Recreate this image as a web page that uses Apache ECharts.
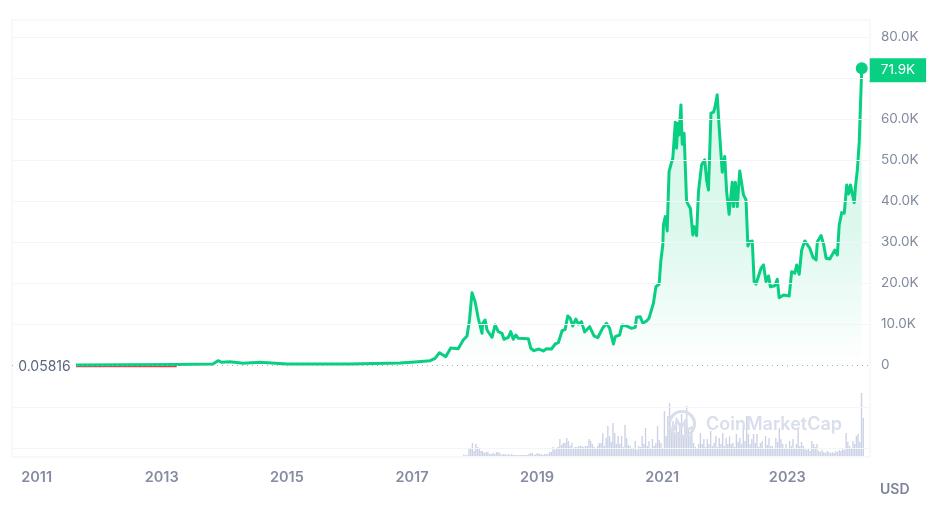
<!DOCTYPE html>
<html>
<head>
<meta charset="utf-8">
<style>
  html, body { margin: 0; padding: 0; background: #fff; }
  #chart { width: 937px; height: 508px; }
</style>
<script src="https://cdn.jsdelivr.net/npm/echarts@6/dist/echarts.min.js"></script>
</head>
<body>
<div id="chart"></div>
<script>
const yearTicks = [2011, 2013, 2015, 2017, 2019, 2021, 2023]
const priceTicks = [0, 10000, 20000, 30000, 40000, 50000, 60000, 80000]
const gridValues = [-20250, -10250, 10000, 20000, 30000, 40000, 50000, 60000, 70000, 80000]
const startPriceLabel = '0.05816'
const lastPriceLabel = '71.9K'

// decimal year, price in USD
const priceYears = [
  2011.63, 2013.24, 2013.82, 2013.90, 2013.96, 2014.09, 2014.30, 2014.57, 2015.00, 2015.21, 2016.01, 2016.81,
  2017.05, 2017.29, 2017.37, 2017.44, 2017.54, 2017.62, 2017.74, 2017.82, 2017.88, 2017.92, 2017.96, 2017.98,
  2018.01, 2018.04, 2018.06, 2018.09, 2018.12, 2018.13, 2018.17, 2018.20, 2018.22, 2018.28, 2018.33, 2018.38,
  2018.44, 2018.47, 2018.54, 2018.58, 2018.62, 2018.66, 2018.70, 2018.86, 2018.90, 2018.95, 2019.03, 2019.10,
  2019.15, 2019.23, 2019.29, 2019.34, 2019.40, 2019.45, 2019.49, 2019.53, 2019.57, 2019.62, 2019.66, 2019.71,
  2019.76, 2019.79, 2019.84, 2019.91, 2019.97, 2020.05, 2020.11, 2020.16, 2020.22, 2020.25, 2020.32, 2020.36,
  2020.43, 2020.51, 2020.57, 2020.59, 2020.65, 2020.69, 2020.75, 2020.79, 2020.86, 2020.90, 2020.95, 2020.98,
  2021.01, 2021.02, 2021.05, 2021.08, 2021.11, 2021.15, 2021.17, 2021.21, 2021.23, 2021.25, 2021.27, 2021.30,
  2021.32, 2021.35, 2021.39, 2021.45, 2021.47, 2021.49, 2021.51, 2021.55, 2021.58, 2021.63, 2021.68, 2021.71,
  2021.74, 2021.78, 2021.82, 2021.84, 2021.88, 2021.91, 2021.96, 2022.00, 2022.03, 2022.07, 2022.12, 2022.14,
  2022.17, 2022.20, 2022.24, 2022.30, 2022.34, 2022.37, 2022.40, 2022.44, 2022.47, 2022.50, 2022.58, 2022.62,
  2022.66, 2022.70, 2022.73, 2022.80, 2022.84, 2022.87, 2022.94, 2023.03, 2023.07, 2023.12, 2023.15, 2023.19,
  2023.23, 2023.28, 2023.36, 2023.41, 2023.46, 2023.48, 2023.54, 2023.58, 2023.62, 2023.68, 2023.76, 2023.80,
  2023.83, 2023.87, 2023.91, 2023.95, 2023.98, 2024.01, 2024.07, 2024.09, 2024.12, 2024.15, 2024.19
]
const priceValues = [
  0.05816, 100, 240, 1050, 660, 800, 415, 660, 240, 240, 240, 490,
  730, 1050, 1630, 3000, 2030, 4150, 3980, 6100, 7080, 10980, 17640, 17740,
  15450, 15050, 11400, 10980, 7730, 10170, 10980, 8540, 8950, 6760, 9760, 8130,
  7730, 6270, 6760, 8130, 6270, 7320, 6510, 6420, 4070, 3490, 3900, 3420,
  3980, 3900, 5120, 5440, 8370, 8710, 11960, 11400, 9520, 11220, 10000, 10570,
  8050, 8300, 9350, 7080, 6660, 9030, 10170, 8950, 5120, 6900, 7320, 9760,
  9520, 8950, 9200, 11640, 11790, 10170, 10740, 11400, 15050, 19100, 19690, 25620,
  29280, 34160, 36190, 32700, 47170, 49460, 50440, 59220, 52870, 58970, 56120, 63440,
  53850, 56530, 39850, 38230, 38380, 31720, 33750, 31550, 42290, 48800, 50020, 45140,
  42700, 61410, 61660, 62630, 65880, 58150, 47020, 50830, 42290, 36770, 44580, 38630,
  44580, 38630, 47340, 41480, 40260, 29040, 30080, 30260, 20330, 19760, 23600, 24400,
  20330, 21720, 19100, 19350, 20910, 16420, 17080, 16840, 22770, 22370, 24400, 22130,
  28060, 30260, 28470, 26280, 25620, 30080, 31550, 29520, 26030, 25860, 28060, 26840,
  34160, 37160, 37010, 43920, 41720, 43920, 39600, 43500, 47580, 54480, 72400
]
// the red stretch just under the start price
const belowYears = [2011.63, 2013.24]
const belowValues = [-300, -300]

// volume bars, one every ten days from volumeStart
const volumeStart = 2017.83
const volumeStep = 0.0274
const volumeValues = [
  1.5, 0.5, 1, 7, 7, 13, 5, 12, 9, 8,
  5, 5, 3, 4, 4, 2, 2, 3, 2, 4,
  4, 3, 1, 2, 2, 1, 2, 1, 2, 1,
  1, 1, 1, 1, 1, 1, 1, 1, 2, 3,
  3, 1, 2, 3, 2, 2, 1, 2, 2, 2,
  4, 4, 9, 6, 7, 9, 17, 11, 13, 13,
  18, 15, 10, 13, 7, 9, 9, 10, 10, 10,
  9, 10, 10, 17, 15, 12, 9, 8, 10, 13,
  13, 23, 10, 18, 30, 20, 14, 33, 23, 12,
  20, 12, 20, 9, 31, 18, 11, 10, 8, 7,
  15, 6, 10, 9, 20, 12, 28, 10, 15, 8,
  17, 10, 13, 30, 16, 13, 7, 45, 20, 40,
  53, 25, 35, 20, 38, 24, 33, 42, 18, 35,
  50, 27, 20, 30, 13, 9, 8, 12, 23, 12,
  17, 9, 17, 12, 25, 10, 13, 20, 9, 18,
  12, 23, 10, 18, 12, 20, 12, 13, 9, 22,
  14, 18, 12, 28, 15, 40, 22, 12, 17, 22,
  13, 22, 9, 13, 15, 8, 20, 11, 18, 10,
  10, 8, 18, 14, 28, 17, 12, 8, 12, 7,
  15, 10, 17, 8, 12, 27, 10, 14, 10, 8,
  6, 8, 5, 15, 12, 9, 12, 5, 4, 6,
  4, 3, 5, 4, 3, 4, 3, 5, 4, 6,
  5, 7, 6, 23, 14, 10, 8, 15, 12, 20,
  22, 14, 63, 38
]

const green = '#09cf83'
const font = 'Inter'
const xMin = 2010.607
const xMax = 2024.322
const toPairs = (xs, ys) => xs.map((x, i) => [x, ys[i]])
const lastPoint = [priceYears[priceYears.length - 1], priceValues[priceValues.length - 1]]

const chart = echarts.init(document.getElementById('chart'), null, { renderer: 'canvas' })
chart.setOption({
  animation: false,
  backgroundColor: '#fff',
  textStyle: { fontFamily: font },
  grid: [
    { left: 12, right: 67, top: 20, bottom: 51, show: true, borderColor: '#eff2f5', borderWidth: 1, backgroundColor: 'transparent' },
    { left: 12, right: 67, top: 391, bottom: 52 }
  ],
  xAxis: [
    {
      type: 'value', gridIndex: 0, min: xMin, max: xMax,
      splitLine: { show: false },
      axisLine: { show: false },
      axisTick: { show: true, length: 3, customValues: yearTicks, lineStyle: { color: '#eff2f5' } },
      axisLabel: {
        customValues: yearTicks, margin: 13, color: '#858ca2', fontSize: 14.5, fontWeight: 600, fontFamily: font,
        formatter: v => String(v)
      }
    },
    { type: 'value', gridIndex: 1, min: xMin, max: xMax, show: false }
  ],
  yAxis: [
    {
      type: 'value', gridIndex: 0, position: 'right', min: -22439, max: 84146,
      axisLine: { show: false },
      axisTick: { show: false },
      splitLine: { show: false },
      axisLabel: {
        customValues: priceTicks, align: 'left', margin: 11, color: '#808a9d', fontSize: 13.5, fontFamily: font,
        padding: [0, 0, 4, 0],
        formatter: v => (v === 0 ? '0' : (v / 1000).toFixed(1) + 'K')
      }
    },
    { type: 'value', gridIndex: 1, min: 0, max: 65, show: false }
  ],
  series: [
    {
      type: 'bar', xAxisIndex: 1, yAxisIndex: 1, silent: true, z: 1,
      barWidth: 1.4,
      itemStyle: { color: '#cdd3e6' },
      data: volumeValues.map((v, i) => [volumeStart + i * volumeStep, v])
    },
    {
      type: 'line', xAxisIndex: 0, yAxisIndex: 0, silent: true, z: 2,
      showSymbol: false,
      lineStyle: { color: '#ea3943', width: 2 },
      data: toPairs(belowYears, belowValues)
    },
    {
      type: 'line', xAxisIndex: 0, yAxisIndex: 0, silent: true, z: 3,
      showSymbol: false,
      lineStyle: { color: green, width: 3, join: 'round' },
      itemStyle: { color: green },
      areaStyle: {
        color: new echarts.graphic.LinearGradient(0, 0, 0, 1, [
          { offset: 0, color: 'rgba(9,207,131,0.24)' },
          { offset: 0.55, color: 'rgba(9,207,131,0.2)' },
          { offset: 1, color: 'rgba(9,207,131,0)' }
        ])
      },
      endLabel: {
        show: true, formatter: lastPriceLabel, color: '#fff', backgroundColor: green,
        fontSize: 13.5, fontFamily: font, distance: 8, padding: [5, 11, 5, 11], offset: [0, 2]
      },
      markLine: {
        silent: true, symbol: 'none', label: { show: false },
        lineStyle: { color: '#a6b0c3', width: 1, type: [1, 4] },
        data: [{ yAxis: 0 }].concat(gridValues.map(v => ({
          yAxis: v, lineStyle: { color: '#f4f5f8', width: 1, type: 'solid' }
        })))
      },
      markPoint: {
        silent: true,
        data: [
          { coord: lastPoint, symbol: 'circle', symbolSize: 12, itemStyle: { color: green }, label: { show: false } },
          {
            coord: [2011.126, 0], symbol: 'circle', symbolSize: 0,
            label: {
              show: true, formatter: startPriceLabel, position: 'inside', offset: [0, 2], color: '#58667e',
              fontSize: 14, fontFamily: font, backgroundColor: '#fff', padding: [1, 2]
            }
          }
        ]
      },
      data: toPairs(priceYears, priceValues)
    }
  ],
  graphic: [
    { type: 'text', left: 880, top: 483, silent: true, style: { text: 'USD', fill: '#7a8399', font: '600 14px Inter' } },
    { type: 'text', left: 706, top: 416, silent: true, z: 10, style: { text: 'CoinMarketCap', fill: '#d8deeb', font: '600 18px Inter' } },
    { type: 'circle', silent: true, z: 10, shape: { cx: 682, cy: 424, r: 12.5 }, style: { fill: 'none', stroke: '#d8deeb', lineWidth: 3 } },
    { type: 'polyline', silent: true, z: 10, shape: { points: [[674, 431], [677, 420], [681, 428], [686, 420], [687, 429], [692, 428]] }, style: { fill: 'none', stroke: '#d8deeb', lineWidth: 2.5 } }
  ]
})
</script>
</body>
</html>
